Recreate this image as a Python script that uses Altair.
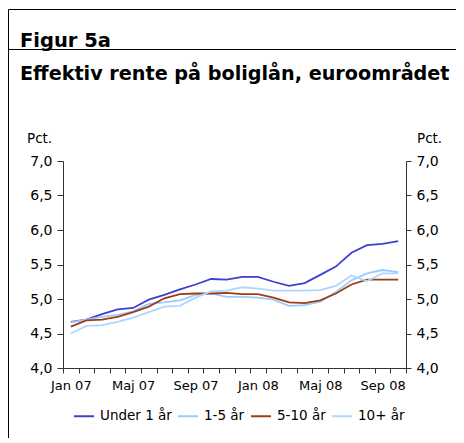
import json
import altair as alt
import pandas as pd

months = ["Jan 07", "Feb 07", "Mar 07", "Apr 07", "Maj 07", "Jun 07", "Jul 07", "Aug 07",
          "Sep 07", "Okt 07", "Nov 07", "Dec 07", "Jan 08", "Feb 08", "Mar 08", "Apr 08",
          "Maj 08", "Jun 08", "Jul 08", "Aug 08", "Sep 08", "Okt 08"]
series = ["Under 1 år", "1-5 år", "5-10 år", "10+ år"]
colors = ["#3F3FCF", "#99CCFF", "#A03C14", "#B0D6FF"]

under1 = [4.67, 4.70, 4.78, 4.85, 4.87, 4.99, 5.06, 5.14, 5.21, 5.29, 5.28,
          5.32, 5.32, 5.25, 5.19, 5.23, 5.35, 5.47, 5.67, 5.78, 5.80, 5.84]
y1_5 = [4.66, 4.70, 4.74, 4.77, 4.82, 4.93, 4.95, 4.98, 5.06, 5.08, 5.03,
        5.03, 5.02, 4.99, 4.90, 4.91, 4.96, 5.10, 5.27, 5.37, 5.42, 5.39]
y5_10 = [4.60, 4.69, 4.70, 4.74, 4.81, 4.89, 5.01, 5.07, 5.08, 5.08, 5.09,
         5.07, 5.07, 5.02, 4.95, 4.94, 4.98, 5.08, 5.21, 5.28, 5.28, 5.28]
y10p = [4.50, 4.61, 4.62, 4.67, 4.73, 4.81, 4.89, 4.90, 5.02, 5.11, 5.12,
        5.17, 5.15, 5.12, 5.12, 5.12, 5.13, 5.19, 5.34, 5.26, 5.37, 5.37]

y_ticks = [4.0, 4.5, 5.0, 5.5, 6.0, 6.5, 7.0]
shown_months = months[::4]

rows = []
for name, vals in zip(series, [under1, y1_5, y5_10, y10p]):
    for m, v in zip(months, vals):
        rows.append({"month": m, "value": v, "series": name})
df = pd.DataFrame(rows)

FONT = "DejaVu Sans"
AX = "#333333"
ylab = "replace(format(datum.value, '.1f'), '.', ',')"
xlab = f"indexof({json.dumps(shown_months)}, datum.value) >= 0 ? datum.value : ''"

x_enc = alt.X(
    "month:O", sort=months, bandPosition=0.5,
    scale=alt.Scale(type="band", paddingInner=0, paddingOuter=0),
    axis=alt.Axis(title=None, tickBand="extent", labelExpr=xlab, labelAngle=0,
                  labelOverlap=False, tickSize=5, labelPadding=6, labelFont=FONT,
                  labelFontSize=13, labelColor="black", domainColor=AX, tickColor=AX,
                  grid=False),
)
y_scale = alt.Scale(domain=[4, 7], nice=False, zero=False)

lines = alt.Chart(df).mark_line(strokeWidth=1.8).encode(
    x=x_enc,
    y=alt.Y("value:Q", scale=y_scale,
            axis=alt.Axis(title=None, orient="left", values=y_ticks, labelExpr=ylab,
                          grid=False, tickSize=6, labelPadding=5, labelFont=FONT,
                          labelFontSize=14, labelColor="black", domainColor=AX, tickColor=AX)),
    color=alt.Color("series:N", scale=alt.Scale(domain=series, range=colors),
                    legend=alt.Legend(orient="none", legendX=10, legendY=244,
                                      direction="horizontal", title=None,
                                      symbolType="stroke", symbolSize=400,
                                      symbolStrokeWidth=2, labelFont=FONT,
                                      labelFontSize=13.5, labelColor="black",
                                      labelOffset=5, columnPadding=2)),
    order=alt.Order("series:N"),
)

right = alt.Chart(df).mark_line(opacity=0).encode(
    x=x_enc,
    y=alt.Y("value:Q", scale=y_scale,
            axis=alt.Axis(title=None, orient="right", values=y_ticks, labelExpr=ylab,
                          grid=False, tickSize=5, labelPadding=5, labelFont=FONT,
                          labelFontSize=14, labelColor="black", domainColor=AX, tickColor=AX)),
    detail="series:N",
)


def txt(s, x, y, size, weight="normal"):
    return alt.Chart(pd.DataFrame({"t": [s]})).mark_text(
        align="left", baseline="alphabetic", font=FONT, fontSize=size,
        fontWeight=weight, color="black"
    ).encode(x=alt.value(x), y=alt.value(y), text="t:N")


def rule(x1, x2, y1, y2):
    return alt.Chart(pd.DataFrame({"a": [0]})).mark_rule(color="black", strokeWidth=1).encode(
        x=alt.value(x1), x2=alt.value(x2), y=alt.value(y1), y2=alt.value(y2))


texts = [
    txt("Figur 5a", -43, -114, 19.5, "bold"),
    txt("Effektiv rente på boliglån, euroområdet", -43, -81, 19.2, "bold"),
    txt("Pct.", -36, -18, 13.5),
    txt("Pct.", 354, -18, 13.5),
]
frame = [
    rule(-54.5, -54.5, -151.5, 300),
    rule(-54.5, 400, -151.5, -151.5),
    rule(-54.5, 400, -111.5, -111.5),
]

chart = alt.layer(lines, right, *texts, *frame).resolve_scale(y="independent").properties(
    width=343, height=207,
    padding={"left": 55, "top": 153, "right": 50, "bottom": 70},
    autosize=alt.AutoSizeParams(type="none"),
).configure_view(stroke=None)

chart.save("out.html", embed_options={"renderer": "svg", "actions": False})
